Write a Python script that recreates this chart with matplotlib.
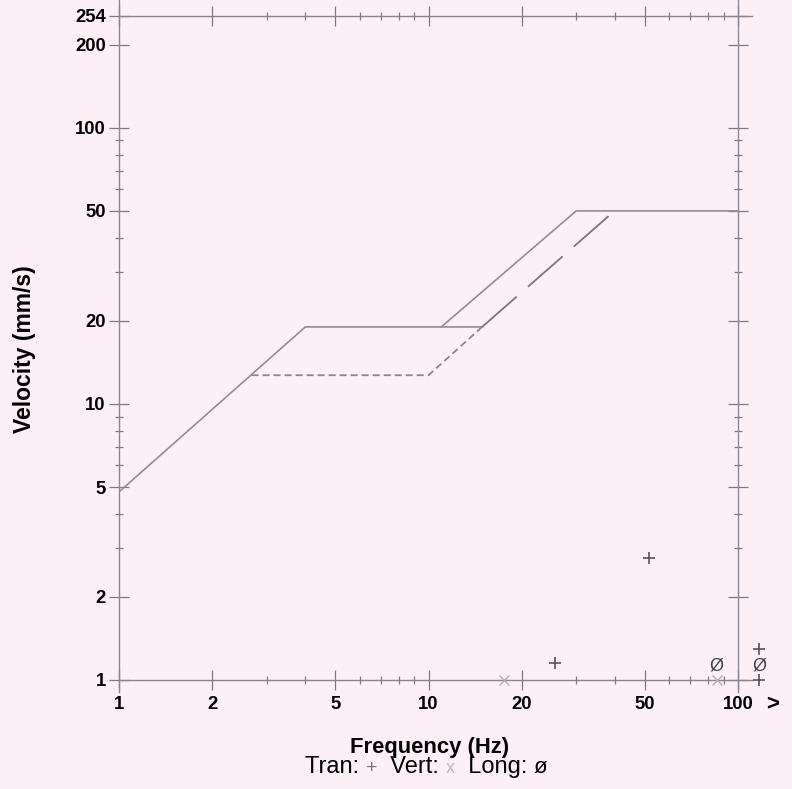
import matplotlib
matplotlib.use("Agg")
import matplotlib.pyplot as plt
from matplotlib.ticker import FixedLocator, NullFormatter, FixedFormatter

# ---- data ----
solid1_f = [1, 4, 14.9]
solid1_v = [4.8, 19, 19]
solid2_f = [11, 30, 100]
solid2_v = [19, 50, 50]
dash_f = [2.68, 10, 14.9]
dash_v = [12.7, 12.7, 19]
longdash_f = [14.9, 38.6]
longdash_v = [19, 48.4]

tran_f = [25.6, 51.6, 117, 117]
tran_v = [1.15, 2.77, 1.29, 1.0]
vert_f = [17.6, 85.3]
vert_v = [1.0, 1.0]
long_f = [85.3, 117]
long_v = [1.12, 1.12]

x_major = [1, 2, 5, 10, 20, 50, 100]
x_labels = ["1", "2", "5", "10", "20", "50", "100"]
x_minor = [3, 4, 6, 7, 8, 9, 30, 40, 60, 70, 80, 90]
y_major = [1, 2, 5, 10, 20, 50, 100, 200, 254]
y_labels = ["1", "2", "5", "10", "20", "50", "100", "200", "254"]
y_minor = [3, 4, 6, 7, 8, 9, 30, 40, 60, 70, 80, 90]

plt.rcParams['font.family'] = ['Liberation Sans', 'DejaVu Sans']

W, H = 792, 789
bg = '#fcf0f6'
fig = plt.figure(figsize=(W/100, H/100), dpi=100, facecolor=bg)
ax = fig.add_axes([119/W, 109/H, 619/W, 664/H])
ax.set_facecolor(bg)
ax.set_xscale('log')
ax.set_yscale('log')
ax.set_xlim(1, 100)
ax.set_ylim(1, 254)

for s in ax.spines.values():
    s.set_visible(False)

axc = '#8a8484'
# frame lines (extended like reference)
ax.plot([1, 1], [0.905, 291], color='#9a8478', lw=1.0, clip_on=False)
ax.plot([100, 100], [0.905, 291], color='#8a8a9a', lw=1.0, clip_on=False)
ax.plot([1, 111], [1, 1], color=axc, lw=1.0, clip_on=False)
ax.plot([1, 111], [254, 254], color=axc, lw=1.0, clip_on=False)

ax.xaxis.set_major_locator(FixedLocator(x_major))
ax.xaxis.set_major_formatter(FixedFormatter(x_labels))
ax.xaxis.set_minor_locator(FixedLocator(x_minor))
ax.xaxis.set_minor_formatter(NullFormatter())
ax.yaxis.set_major_locator(FixedLocator(y_major))
ax.yaxis.set_major_formatter(FixedFormatter(y_labels))
ax.yaxis.set_minor_locator(FixedLocator(y_minor))
ax.yaxis.set_minor_formatter(NullFormatter())

ax.tick_params(which='both', direction='inout', top=True, right=True,
               color='#7a7a80', width=0.9)
ax.tick_params(which='major', length=15, labelsize=13.3)
ax.tick_params(axis='x', which='major', pad=4)
ax.tick_params(axis='y', which='major', pad=2)
ax.tick_params(which='minor', length=6)
for lab in ax.get_xticklabels() + ax.get_yticklabels():
    lab.set_fontweight('bold')

lc = '#8f8f8f'
ax.plot(solid1_f, solid1_v, color=lc, lw=1.2)
ax.plot(solid2_f, solid2_v, color=lc, lw=1.2)
l1, = ax.plot(dash_f, dash_v, color='#888888', lw=1.3)
l1.set_dashes([3.9, 2.2])
l2, = ax.plot(longdash_f, longdash_v, color='#777777', lw=1.3)
l2.set_dashes([25.5, 8.3])

ax.plot(tran_f, tran_v, linestyle='none', marker='+', markersize=8,
        markeredgewidth=1.2, color='#555555', clip_on=False)
ax.plot(vert_f, vert_v, linestyle='none', marker='x', markersize=7,
        markeredgewidth=1.0, color='#b0b0b0', clip_on=False)
for f, v in zip(long_f, long_v):
    ax.text(f, v, 'Ø', fontsize=13, color='#444444', ha='center',
            va='center', clip_on=False)

fig.text(773/W, 1 - 705/H, '>', fontsize=16, fontweight='bold',
         ha='center', va='center')

fig.text(430/W, 1 - 747/H, 'Frequency (Hz)', fontsize=15.8,
         fontweight='bold', ha='center', va='center')
fig.text(25/W, 1 - 349/H, 'Velocity (mm/s)', fontsize=16.5,
         fontweight='bold', ha='center', va='center', rotation=90)

# legend line: parts on a common baseline
parts = [('Tran: ', 17, 'black'), ('+', 14, '#777777'),
         ('  Vert: ', 17, 'black'), ('x', 13, '#bbbbbb'),
         ('  Long: ', 17, 'black'), ('ø', 16, 'black')]
renderer = fig.canvas.get_renderer()
xpix = 305.0
ybase = 1 - 773/H
for s, size, col in parts:
    t = fig.text(xpix/W, ybase, s, fontsize=size, color=col,
                 ha='left', va='baseline')
    bb = t.get_window_extent(renderer)
    xpix = bb.x1

fig.savefig('out.png', dpi=100, facecolor=bg)
